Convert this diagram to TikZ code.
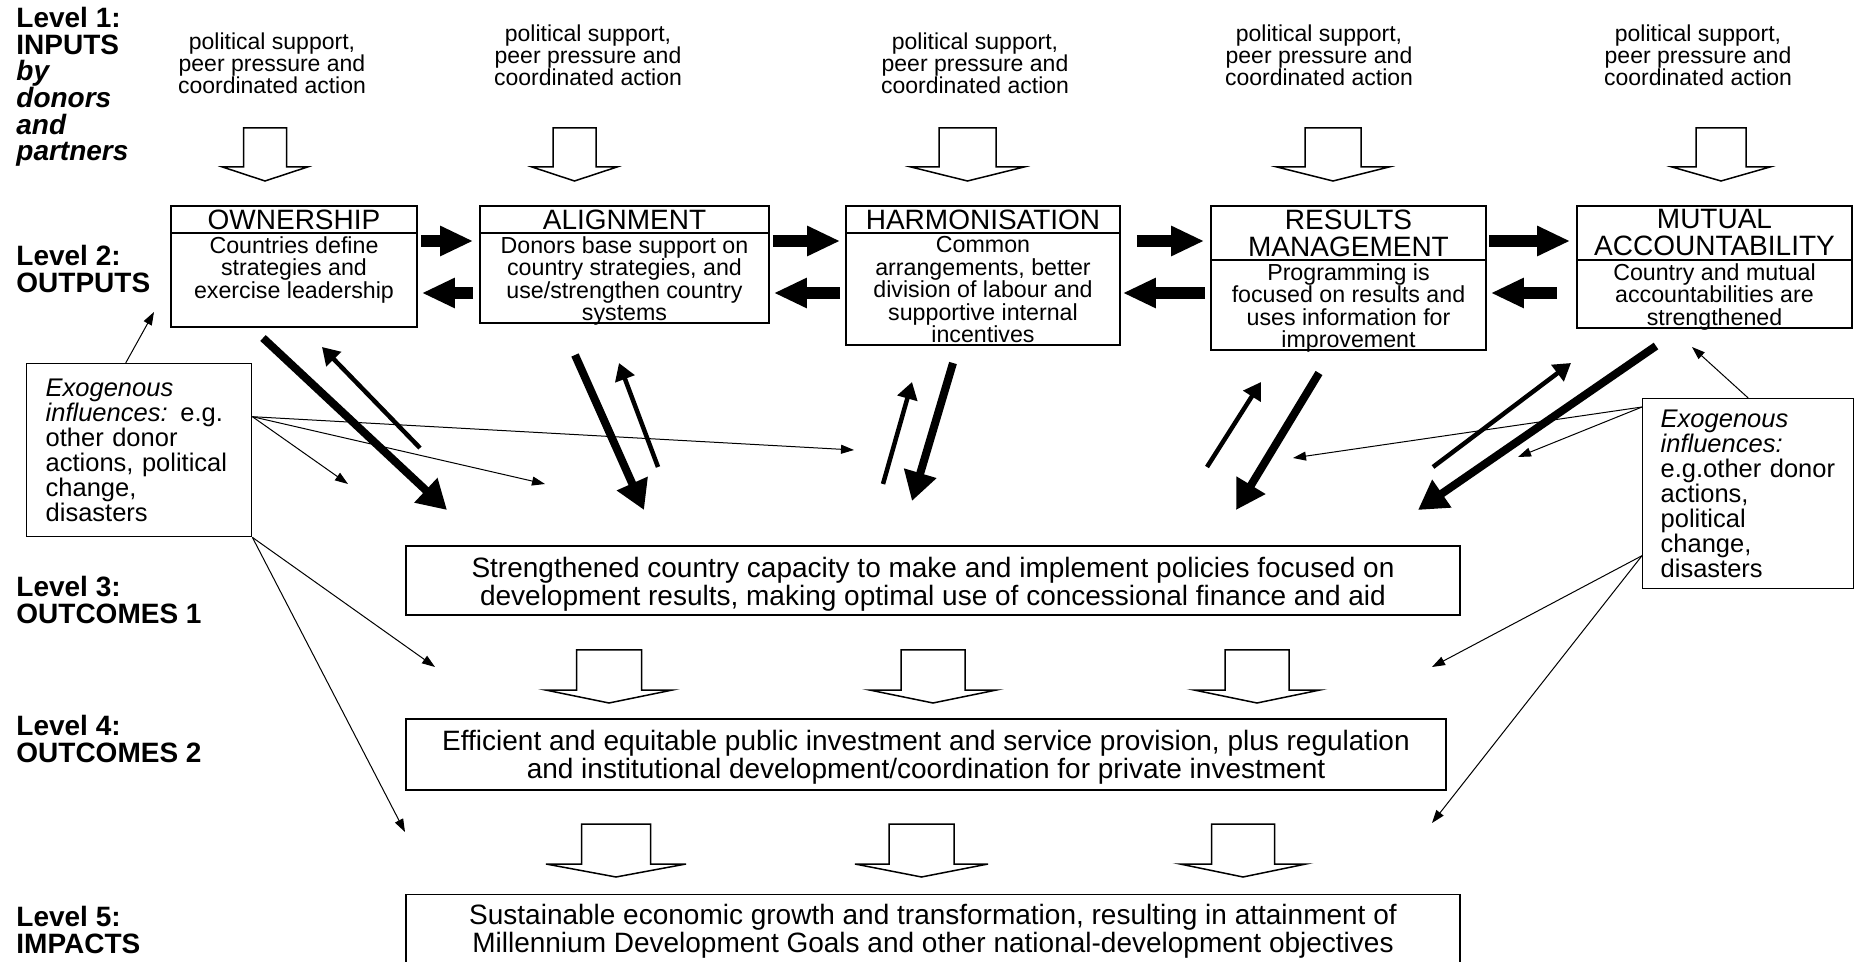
\documentclass[tikz,border=0pt]{standalone}
\usepackage{fontspec}
\setmainfont{Liberation Sans}
\usetikzlibrary{arrows.meta,fit}
\tikzset{
  lvl/.style={font=\fontsize{14pt}{13.3pt}\selectfont\bfseries, align=left, anchor=west, inner sep=0pt},
  input/.style={font=\fontsize{11.5pt}{11pt}\selectfont, align=center, inner sep=0pt},
  pbox/.style={draw, line width=0.8pt, inner sep=0pt},
  pline/.style={line width=0.8pt},
  ptitle/.style={font=\fontsize{14pt}{13.5pt}\selectfont, align=center, inner sep=0pt},
  pbody/.style={font=\fontsize{11.6pt}{11.25pt}\selectfont, align=center, inner sep=0pt},
  exobox/.style={draw, line width=0.7pt, align=left, font=\fontsize{12.75pt}{12.5pt}\selectfont},
  outbox/.style={draw, line width=0.7pt},
  outtext/.style={align=center, inner sep=0pt, font=\fontsize{14pt}{14pt}\selectfont},
  hollow/.style={draw, line width=0.75pt, fill=white},
  fat/.style={line width=6pt, -{Triangle[length=16.5pt, width=14pt]}},
  heavy/.style={line width=4pt, -{Triangle[length=14.5pt, width=16pt]}},
  light/.style={line width=2.25pt, -{Triangle[length=8.5pt, width=10pt]}},
  infl/.style={line width=0.5pt, -{Triangle[length=6.5pt, width=4.5pt]}},
}
\newcommand{\blockdown}[6]{\draw[hollow] ({#1-#5},#2) -- ({#1+#5},#2) -- ({#1+#5},#3) -- ({#1+#6},#3) -- (#1,#4) -- ({#1-#6},#3) -- ({#1-#5},#3) -- cycle;}
\newcommand{\principle}[7]{
  \node[pbox, fit={(#2,206) (#3,#4)}] (#1) {};
  \coordinate (#1div) at (0,#5);
  \draw[pline] (#1.west |- #1div) -- (#1.east |- #1div);
  \node[ptitle] (#1t) at ({(#2+#3)/2},{(206+#5)/2}) {#6};
  \node[pbody, anchor=north] (#1b) at ({(#2+#3)/2},{#5+3}) {#7};}

\begin{document}
\begin{tikzpicture}[x=0.5pt,y=-0.5pt]
\useasboundingbox (0,0) rectangle (1865,962);

% level labels
\node[lvl] (lv1) at (16,87) {Level 1:\\INPUTS\\\textit{by}\\\textit{donors}\\\textit{and}\\\textit{partners}};
\node[lvl] (lv2) at (16,269) {Level 2:\\OUTPUTS};
\node[lvl] (lv3) at (16,600) {Level 3:\\OUTCOMES 1};
\node[lvl] (lv4) at (16,739) {Level 4:\\OUTCOMES 2};
\node[lvl] (lv5) at (16,930) {Level 5:\\IMPACTS};

% inputs
\node[input] (in1) at (272,63) {political support,\\peer pressure and\\coordinated action};
\node[input] (in2) at (588,55) {political support,\\peer pressure and\\coordinated action};
\node[input] (in3) at (975,63) {political support,\\peer pressure and\\coordinated action};
\node[input] (in4) at (1319,55) {political support,\\peer pressure and\\coordinated action};
\node[input] (in5) at (1698,55) {political support,\\peer pressure and\\coordinated action};

\blockdown{265}{128}{167}{181}{21.5}{42.5}
\blockdown{574.5}{128}{167}{181}{21.5}{42.5}
\blockdown{967.5}{128}{167}{181}{28.5}{56.5}
\blockdown{1333}{128}{167}{181}{28}{56}
\blockdown{1721}{128}{167}{181}{25}{49}

% outputs
\principle{own}{171}{417}{327}{233}{OWNERSHIP}{Countries define\\strategies and\\exercise leadership}
\principle{align}{480}{769}{323}{233}{ALIGNMENT}{Donors base support on\\country strategies, and\\use/strengthen country\\systems}
\principle{harm}{846}{1120}{345}{233}{HARMONISATION}{Common\\arrangements, better\\division of labour and\\supportive internal\\incentives}
\principle{res}{1211}{1486}{350}{260}{RESULTS\\MANAGEMENT}{Programming is\\focused on results and\\uses information for\\improvement}
\principle{mut}{1577}{1852}{328}{260}{MUTUAL\\ACCOUNTABILITY}{Country and mutual\\accountabilities are\\strengthened}

\coordinate (upper) at (0,241);
\coordinate (lower) at (0,293);
\draw[fat, shorten <=1.5pt, shorten >=3pt] (own.east |- upper) -- (align.west |- upper);
\draw[fat, shorten <=3pt, shorten >=2pt] (align.west |- lower) -- (own.east |- lower);
\draw[fat, shorten <=1.5pt, shorten >=2.5pt] (align.east |- upper) -- (harm.west |- upper);
\draw[fat, shorten <=2.5pt, shorten >=2pt] (harm.west |- lower) -- (align.east |- lower);
\draw[fat, shorten <=8pt, shorten >=3pt] (harm.east |- upper) -- (res.west |- upper);
\draw[fat, shorten <=2.5pt, shorten >=1pt] (res.west |- lower) -- (harm.east |- lower);
\draw[fat, shorten <=1pt, shorten >=3pt] (res.east |- upper) -- (mut.west |- upper);
\draw[fat, shorten <=9.5pt, shorten >=2pt] (mut.west |- lower) -- (res.east |- lower);

% feedback between levels 2 and 3
\coordinate (dn1) at (263,338);  \coordinate (dn1e) at (447,510);
\coordinate (dn2) at (575,355);  \coordinate (dn2e) at (644,510);
\coordinate (dn3) at (953,363);  \coordinate (dn3e) at (912,501);
\coordinate (dn4) at (1319,373); \coordinate (dn4e) at (1236,510);
\coordinate (dn5) at (1656,346); \coordinate (dn5e) at (1418,510);
\coordinate (up1) at (420,448);  \coordinate (up1e) at (322,347);
\coordinate (up2) at (658,467);  \coordinate (up2e) at (619,363);
\coordinate (up3) at (883,484);  \coordinate (up3e) at (912,382);
\coordinate (up4) at (1207,467); \coordinate (up4e) at (1261,382);
\coordinate (up5) at (1433,467); \coordinate (up5e) at (1571,363);
\draw[heavy] (dn1) -- (dn1e);
\draw[heavy] (dn2) -- (dn2e);
\draw[heavy] (dn3) -- (dn3e);
\draw[heavy] (dn4) -- (dn4e);
\draw[heavy] (dn5) -- (dn5e);
\draw[light] (up1) -- (up1e);
\draw[light] (up2) -- (up2e);
\draw[light] (up3) -- (up3e);
\draw[light] (up4) -- (up4e);
\draw[light] (up5) -- (up5e);

% outcomes and impacts
\node[outbox, minimum width=527pt, minimum height=34.5pt] (out1) at (933,580.5) {};
\node[outtext] (out1t) at (933,584.5) {Strengthened country capacity to make and implement policies focused on\\development results, making optimal use of concessional finance and aid};
\node[outbox, minimum width=520pt, minimum height=35.5pt] (out2) at (926,754.5) {};
\node[outtext] (out2t) at (926,757) {Efficient and equitable public investment and service provision, plus regulation\\and institutional development/coordination for private investment};
\node[outbox, minimum width=527pt, minimum height=40pt, anchor=north] (imp) at (933,894) {};
\node[outtext] (impt) at (933,931.5) {Sustainable economic growth and transformation, resulting in attainment of\\Millennium Development Goals and other national-development objectives};

\blockdown{609}{650}{690}{703}{32.5}{63.5}
\blockdown{933}{650}{690}{703}{32}{63.5}
\blockdown{1257}{650}{690}{703}{32}{63}
\blockdown{616}{824}{864}{877}{34.5}{70}
\blockdown{921.5}{824}{864}{877}{32.5}{66.5}
\blockdown{1243}{824}{864}{877}{31.5}{63}

% exogenous influences
\node[exobox, text width=93.5pt, inner xsep=9.5pt, minimum height=86.5pt, anchor=north west] (exoL) at (26,363) {\textit{Exogenous}\\\textit{influences:} e.g.\\other donor\\actions, political\\change,\\disasters};
\node[exobox, text width=87.5pt, inner xsep=9pt, minimum height=95pt, anchor=north west] (exoR) at (1642,398) {\textit{Exogenous}\\\textit{influences:}\\e.g.other donor\\actions,\\political\\change,\\disasters};

\coordinate (ownIn) at (154,312);
\coordinate (l1) at (348,484);
\coordinate (l2) at (545,484);
\coordinate (l3) at (854,450);
\coordinate (l4) at (435,667);
\coordinate (l5) at (405,832);
\draw[infl] ([xshift=-6.75pt]exoL.north) -- (ownIn);
\draw[infl] ([yshift=16.75pt]exoL.east) -- (l1);
\draw[infl] ([yshift=16.75pt]exoL.east) -- (l2);
\draw[infl] ([yshift=16.75pt]exoL.east) -- (l3);
\draw[infl] (exoL.south east) -- (l4);
\draw[infl] (exoL.south east) -- (l5);

\coordinate (mutIn) at (1692,347);
\coordinate (r1) at (1293,458);
\coordinate (r2) at (1518,457);
\coordinate (r3) at (1432,667);
\coordinate (r4) at (1432,823);
\draw[infl] (exoR.north) -- (mutIn);
\draw[infl] ([yshift=-4.5pt]exoR.north west) -- (r1);
\draw[infl] ([yshift=-4.5pt]exoR.north west) -- (r2);
\draw[infl] ([yshift=-31pt]exoR.west) -- (r3);
\draw[infl] ([yshift=-31pt]exoR.west) -- (r4);
\end{tikzpicture}
\end{document}
